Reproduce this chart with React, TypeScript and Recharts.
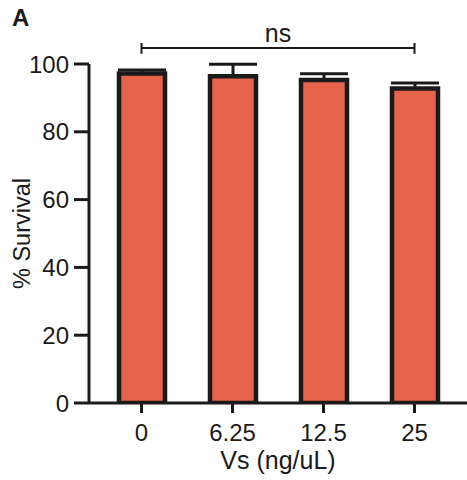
import React from 'react';
import { BarChart, Bar, XAxis, YAxis, ErrorBar, ReferenceLine, Label } from 'recharts';

const categories = ['0', '6.25', '12.5', '25'];
const survival = [97.2, 96.4, 95.3, 92.8];
const sem = [1.0, 3.5, 1.8, 1.6];
const yTicks = [0, 20, 40, 60, 80, 100];
const bracketY = 104.7;
const bracketTickLow = 103;
const bracketTickHigh = 106.2;
const bracketLabel = 'ns';

const data = categories.map((c, i) => ({ dose: c, survival: survival[i], err: [0, sem[i]] }));

const FONT = '"Liberation Sans", Arial, sans-serif';
const INK = '#1a1a1a';

export default function App() {
  return (
    <div style={{ position: 'absolute', left: 0, top: 0, width: 467, height: 480, background: '#fff', fontFamily: FONT }}>
      <div style={{ position: 'absolute', left: 12, top: 4, fontSize: 24, lineHeight: '28px', fontWeight: 700, color: INK }}>A</div>
      <BarChart width={467} height={480} data={data} margin={{ top: 64, right: 0, bottom: 0, left: 0 }} barCategoryGap={0}>
        <XAxis
          dataKey="dose"
          height={77}
          padding={{ left: 7, right: 7 }}
          axisLine={{ stroke: INK, strokeWidth: 3 }}
          tickLine={{ stroke: INK, strokeWidth: 3 }}
          tickSize={10}
          tickMargin={11}
          tick={{ fill: INK, fontSize: 24, fontFamily: FONT }}
        >
          <Label value="Vs (ng/uL)" position="insideBottom" offset={11} style={{ fill: INK, fontSize: 25, fontFamily: FONT }} />
        </XAxis>
        <YAxis
          width={89}
          domain={[0, 100]}
          ticks={yTicks}
          allowDataOverflow
          axisLine={{ stroke: INK, strokeWidth: 3 }}
          tickLine={{ stroke: INK, strokeWidth: 3 }}
          tickSize={15}
          tickMargin={5}
          tick={{ fill: INK, fontSize: 24, fontFamily: FONT }}
        >
          <Label value="% Survival" angle={-90} position="insideLeft" offset={22} style={{ fill: INK, fontSize: 23.5, fontFamily: FONT, textAnchor: 'middle' }} />
        </YAxis>
        <Bar dataKey="survival" fill="#E6644B" stroke={INK} strokeWidth={4.5} barSize={46} isAnimationActive={false}>
          <ErrorBar dataKey="err" width={24} stroke={INK} strokeWidth={3} direction="y" isAnimationActive={false} />
        </Bar>
        <ReferenceLine
          segment={[{ x: categories[0], y: bracketY }, { x: categories[3], y: bracketY }]}
          stroke={INK}
          strokeWidth={2}
          ifOverflow="visible"
        >
          <Label value={bracketLabel} position="top" offset={6} style={{ fill: INK, fontSize: 25, fontFamily: FONT }} />
        </ReferenceLine>
        <ReferenceLine
          segment={[{ x: categories[0], y: bracketTickLow }, { x: categories[0], y: bracketTickHigh }]}
          stroke={INK}
          strokeWidth={2}
          ifOverflow="visible"
        />
        <ReferenceLine
          segment={[{ x: categories[3], y: bracketTickLow }, { x: categories[3], y: bracketTickHigh }]}
          stroke={INK}
          strokeWidth={2}
          ifOverflow="visible"
        />
      </BarChart>
    </div>
  );
}
